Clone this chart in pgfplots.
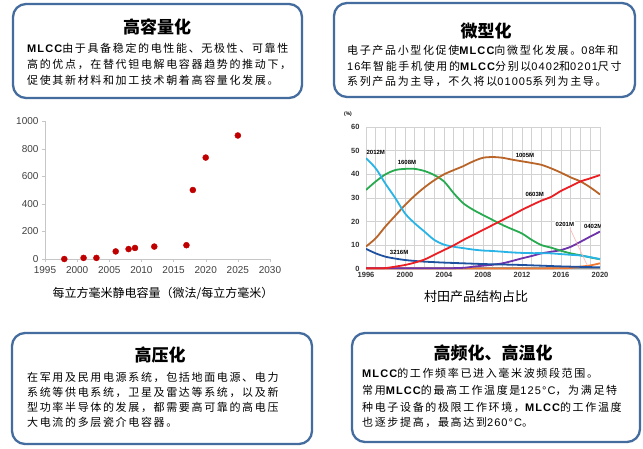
\documentclass[border=0pt]{standalone}
\usepackage{fontspec}
\setmainfont{Liberation Sans}
\newfontfamily\cjk{Noto Sans CJK SC}
\newfontfamily\cjkls[LetterSpace=15]{Noto Sans CJK SC}
\newfontfamily\lat[LetterSpace=10]{Liberation Sans}
\newcommand\M{{\lat\bfseries MLCC}}
\newcommand\N[1]{{\lat #1}}
\usepackage{pgfplots}
\pgfplotsset{compat=1.18}
\definecolor{boxblue}{RGB}{68,108,158}
\definecolor{dotred}{RGB}{192,0,0}
\definecolor{cbrown}{RGB}{185,100,40}
\definecolor{cgreen}{RGB}{40,170,80}
\definecolor{ccyan}{RGB}{40,180,230}
\definecolor{cred}{RGB}{235,30,35}
\definecolor{cblue}{RGB}{30,80,160}
\definecolor{cpurple}{RGB}{110,50,170}
\definecolor{corange}{RGB}{240,120,50}
\definecolor{cgray}{RGB}{150,150,150}
\begin{document}
\begin{tikzpicture}[x=1pt,y=1pt]
\useasboundingbox (0,0) rectangle (643,448);
\fill[white] (0,0) rectangle (643,448);
% ---------- boxes ----------
\draw[boxblue, line width=2.3pt, rounded corners=13pt] (13,350) rectangle (302,444);
\draw[boxblue, line width=2.3pt, rounded corners=13pt] (334,351) rectangle (635,445);
\draw[boxblue, line width=2.3pt, rounded corners=13pt] (12,4) rectangle (312,115);
\draw[boxblue, line width=2.3pt, rounded corners=13pt] (352,6) rectangle (640,115);
% titles
\node[font=\cjk\fontsize{17}{17}\selectfont\bfseries] at (157,421) {高容量化};
\node[font=\cjk\fontsize{17}{17}\selectfont\bfseries] at (486,417) {微型化};
\node[font=\cjk\fontsize{17}{17}\selectfont\bfseries] at (160,93) {高压化};
\node[font=\cjk\fontsize{17}{17}\selectfont\bfseries] at (493,95) {高频化、高温化};
% body text
\tikzset{body/.style={anchor=west, inner sep=0pt, font=\cjkls\fontsize{11}{11}\selectfont}}
\node[body] at (27,400) {\M 由于具备稳定的电性能、无极性、可靠性};
\node[body] at (27,384) {高的优点，在替代钽电解电容器趋势的推动下，};
\node[body] at (27,368) {促使其新材料和加工技术朝着高容量化发展。};
\node[body] at (347,398) {电子产品小型化促使\M 向微型化发展。\N{08}年和};
\node[body] at (347,382) {\N{16}年智能手机使用的\M 分别以\N{0402}和\N{0201}尺寸};
\node[body] at (347,367) {系列产品为主导，不久将以\N{01005}系列为主导。};
\node[body] at (27,71) {在军用及民用电源系统，包括地面电源、电力};
\node[body] at (27,56) {系统等供电系统，卫星及雷达等系统，以及新};
\node[body] at (27,41) {型功率半导体的发展，都需要高可靠的高电压};
\node[body] at (27,26) {大电流的多层瓷介电容器。};
\node[body] at (362,75) {\M 的工作频率已进入毫米波频段范围。};
\node[body] at (362,58) {常用\M 的最高工作温度是\N{125°C}，为满足特};
\node[body] at (362,41) {种电子设备的极限工作环境，\M 的工作温度};
\node[body] at (362,26) {也逐步提高，最高达到\N{260°C}。};
% captions
\node[font=\cjk\fontsize{12}{12}\selectfont] at (163,155) {每立方毫米静电容量（微法/每立方毫米）};
\node[font=\cjk\fontsize{13}{13}\selectfont] at (476,151) {村田产品结构占比};
% ---------- scatter ----------
\begin{axis}[at={(45pt,189pt)}, anchor=south west, scale only axis,
  width=225pt, height=138pt,
  xmin=1995, xmax=2030, ymin=0, ymax=1000,
  xtick={1995,2000,...,2030}, ytick={0,200,...,1000},
  axis lines=left, axis line style={-, draw=gray!45, line width=0.8pt},
  tick style={draw=gray!45}, tick align=outside, major tick length=3pt,
  ticklabel style={font=\fontsize{10}{10}\selectfont, text=black!75},
  xticklabel style={yshift=-1pt},
  /pgf/number format/1000 sep={}, /pgf/number format/assume math mode=true,
  clip=false]
\addplot[only marks, mark=*, mark size=3pt, mark options={fill=dotred, draw=dotred}]
 coordinates {(1998,0) (2001,8) (2003,8) (2006,55) (2008,72) (2009,80) (2012,90) (2017,100) (2018,500) (2020,735) (2025,895)};
\end{axis}
% ---------- lines ----------
\node[font=\bfseries\fontsize{5}{5}\selectfont] at (348,334) {(\%)};
\begin{axis}[at={(366pt,179pt)}, anchor=south west, scale only axis,
  width=234pt, height=142pt,
  xmin=1996, xmax=2020, ymin=0, ymax=60,
  xtick={1996,2000,...,2020}, minor xtick={1996,...,2020}, ytick={0,10,...,60},
  grid=both, major grid style={gray!35, line width=0.6pt}, minor grid style={gray!35, line width=0.6pt},
  axis line style={gray!35}, major tick length=0pt, minor tick length=0pt,
  ticklabel style={font=\bfseries\fontsize{7.5}{7.5}\selectfont, text=black!80},
  yticklabel style={xshift=-3pt},
  /pgf/number format/1000 sep={}, /pgf/number format/assume math mode=true,
  every axis plot/.append style={line width=1.8pt, smooth}]
\addplot[cgray] coordinates {(1996,0.5) (2020,0.5)};
\addplot[corange] coordinates {(1996,0.2) (2010,0.2) (2016,0.3) (2017,0.5) (2018,1) (2019,1.5) (2020,2.4)};
\addplot[cpurple] coordinates {(1996,0.3) (2000,0.3) (2004,0.3) (2006,0.5) (2007,1) (2008,1.4) (2009,1.8) (2010,2.4) (2011,3.4) (2012,4.5) (2013,5.5) (2014,6.6) (2015,7.3) (2016,8) (2017,9.4) (2018,11.5) (2019,13.7) (2020,15.8)};
\addplot[cblue] coordinates {(1996,8.5) (1997,6.6) (1998,5.2) (1999,4.4) (2000,3.8) (2001,3.4) (2002,3.1) (2003,2.9) (2004,2.7) (2006,2.4) (2008,2.1) (2010,1.9) (2012,1.7) (2014,1.4) (2016,1.1) (2018,0.9) (2020,0.7)};
\addplot[cgreen] coordinates {(1996,33.4) (1997,37) (1998,40) (1999,41.8) (2000,42.3) (2001,42.3) (2002,41.4) (2003,39.7) (2004,37) (2005,32) (2006,27.7) (2007,25) (2008,22.8) (2009,20.7) (2010,18.6) (2011,16.8) (2012,15) (2013,12.3) (2014,10.1) (2015,9) (2016,7.7) (2017,6.6) (2018,5.8) (2019,4.9) (2020,4.1)};
\addplot[cbrown] coordinates {(1996,9.5) (1997,13) (1998,18) (1999,22.5) (2000,27) (2001,31) (2002,34.5) (2003,37.5) (2004,40) (2005,41.8) (2006,43.5) (2007,45.5) (2008,47) (2009,47.3) (2010,47) (2011,46.2) (2012,45.5) (2013,44.8) (2014,44) (2015,42.5) (2016,40.7) (2017,38.7) (2018,37) (2019,34.5) (2020,31.5)};
\addplot[ccyan] coordinates {(1996,46.8) (1997,42.5) (1998,36) (1999,30) (2000,23.5) (2001,19.3) (2002,15.8) (2003,12.3) (2004,10.3) (2005,9.4) (2006,8.8) (2007,8.2) (2008,7.8) (2009,7.6) (2010,7.3) (2011,7) (2012,6.8) (2013,6.7) (2014,6.7) (2015,6.6) (2016,6.3) (2017,6) (2018,5.7) (2019,5) (2020,4.2)};
\addplot[cred] coordinates {(1996,0.3) (1997,0.3) (1998,0.4) (1999,1) (2000,1.7) (2001,2.7) (2002,4) (2003,6) (2004,8) (2005,10) (2006,12.3) (2007,14.4) (2008,16.5) (2009,18.6) (2010,20.7) (2011,22.8) (2012,25) (2013,27) (2014,28.9) (2015,30.5) (2016,33) (2017,35) (2018,37) (2019,38.3) (2020,39.7)};
\draw[line width=0.6pt, red!30] (axis cs:2016.9,17.3) -- (axis cs:2018.7,1.5);
\tikzset{lab/.style={font=\bfseries\fontsize{6}{6}\selectfont, inner sep=1pt}}
\node[lab] at (axis cs:1997.0,49.2) {2012M};
\node[lab] at (axis cs:2000.2,45) {1608M};
\node[lab] at (axis cs:2012.3,47.8) {1005M};
\node[lab] at (axis cs:2013.3,31.6) {0603M};
\node[lab, fill=white] at (axis cs:2016.4,19) {0201M};
\node[lab] at (axis cs:2019.3,17.8) {0402M};
\node[lab] at (axis cs:1999.4,6.9) {3216M};
\end{axis}
\end{tikzpicture}
\end{document}
